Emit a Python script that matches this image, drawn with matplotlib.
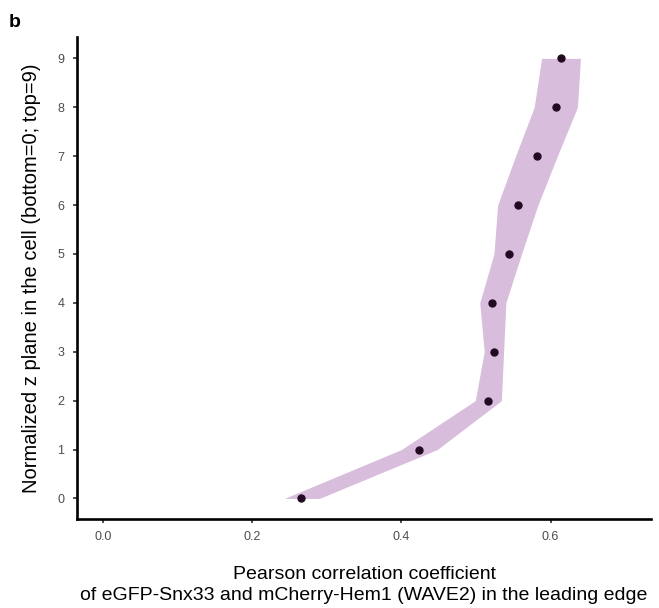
import matplotlib
matplotlib.use('Agg')
import matplotlib.pyplot as plt

plt.rcParams['font.family'] = ['Liberation Sans', 'DejaVu Sans']

# data: z plane, mean correlation and band limits
z = [0, 1, 2, 3, 4, 5, 6, 7, 8, 9]
pearson = [0.266, 0.423, 0.516, 0.524, 0.522, 0.544, 0.556, 0.582, 0.607, 0.614]
band_low = [0.243, 0.400, 0.499, 0.511, 0.505, 0.524, 0.529, 0.553, 0.578, 0.588]
band_high = [0.290, 0.448, 0.534, 0.537, 0.540, 0.561, 0.583, 0.609, 0.636, 0.640]
xticks = [0.0, 0.2, 0.4, 0.6]

fig = plt.figure(figsize=(6.59, 6.08), dpi=100)
ax = fig.add_axes([0.1168, 0.1464, 0.8715, 0.7922])

ax.fill_betweenx(z, band_low, band_high, color='#d9bddc', linewidth=0)
ax.plot(pearson, z, linestyle='', marker='o', markersize=5, color='#220b22')

ax.set_xlim(-0.035, 0.735)
ax.set_ylim(-0.42, 9.43)
ax.set_xticks(xticks)
ax.set_xticklabels(['%.1f' % t for t in xticks])
ax.set_yticks(z)

for side in ['top', 'right']:
    ax.spines[side].set_visible(False)
for side in ['left', 'bottom']:
    ax.spines[side].set_linewidth(1.9)
    ax.spines[side].set_color('black')

ax.tick_params(axis='both', direction='out', length=3, width=1.2,
               color='#333333', labelcolor='#4d4d4d', labelsize=9, pad=6)

ax.set_ylabel('Normalized z plane in the cell (bottom=0; top=9)', fontsize=14.5, labelpad=12)
ax.set_xlabel('Pearson correlation coefficient\nof eGFP-Snx33 and mCherry-Hem1 (WAVE2) in the leading edge',
              fontsize=14, labelpad=16, linespacing=1.3)

fig.text(0.013, 0.956, 'b', fontsize=14, fontweight='bold')

fig.savefig('out.png', dpi=100)
